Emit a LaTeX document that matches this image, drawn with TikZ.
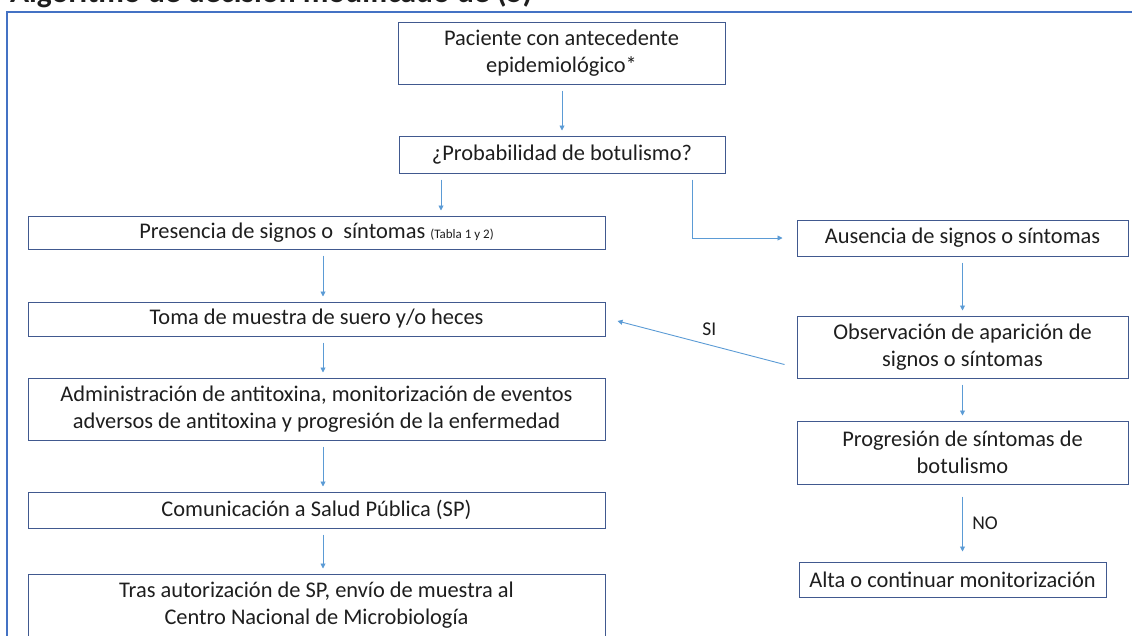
\documentclass[tikz,border=0pt]{standalone}
\usepackage{fontspec}
\setmainfont{Carlito}
\usetikzlibrary{arrows.meta}
\definecolor{boxline}{HTML}{41598F}
\definecolor{arrowblue}{HTML}{5B9BD5}
\definecolor{frameblue}{HTML}{4472C4}
\definecolor{txt}{HTML}{1E1E1E}
\tikzset{
  stepbox/.style={draw=boxline, line width=1pt, align=center, inner sep=0pt,
    text=txt, font=\fontsize{22.4}{27}\selectfont},
  flow/.style={draw=arrowblue, line width=0.9pt, -{Triangle[width=5pt,length=5pt]},
    shorten <=6pt, shorten >=5pt},
  flowlabel/.style={text=txt, font=\fontsize{19.5}{22}\selectfont}
}
\begin{document}
\begin{tikzpicture}[x=1pt,y=-1pt]
    \useasboundingbox (0,0) rectangle (1132,635);

    % Cut-off title and outer frame
    \node[anchor=base east, text=txt, font=\bfseries\fontsize{31.5}{34}\selectfont]
        (titulo) at (536,2) {Algoritmo de decisión modificado de (5)};
    \draw[frameblue, line width=1.6pt] (7,640) -- (7,12) -- (1140,12);

    % Boxes
    \node[stepbox, minimum width=327pt, minimum height=62pt] (pac) at (561.5,53)
        {Paciente con antecedente\\epidemiológico*};
    \node[stepbox, minimum width=326pt, minimum height=37pt] (prob) at (562,154.5)
        {¿Probabilidad de botulismo?};
    \node[stepbox, minimum width=577pt, minimum height=33pt] (pres) at (316.5,232.5)
        {Presencia de signos o\ \ síntomas {\fontsize{13}{15}\selectfont (Tabla 1 y 2)}};
    \node[stepbox, minimum width=577pt, minimum height=34pt] (toma) at (316.5,319)
        {Toma de muestra de suero y/o heces};
    \node[stepbox, minimum width=577pt, minimum height=62pt] (admin) at (316.5,409)
        {Administración de antitoxina, monitorización de eventos\\adversos de antitoxina y progresión de la enfermedad};
    \node[stepbox, minimum width=577pt, minimum height=36pt] (com) at (316.5,510)
        {Comunicación a Salud Pública (SP)};
    \node[stepbox, minimum width=577pt, minimum height=62pt] (tras) at (316.5,605)
        {Tras autorización de SP, envío de muestra al\\Centro Nacional de Microbiología};
    \node[stepbox, minimum width=331pt, minimum height=36pt] (aus) at (962.5,238)
        {Ausencia de signos o síntomas};
    \node[stepbox, minimum width=331pt, minimum height=62pt] (obs) at (962.5,347)
        {Observación de aparición de\\signos o síntomas};
    \node[stepbox, minimum width=331pt, minimum height=63pt] (prog) at (962.5,452.5)
        {Progresión de síntomas de\\botulismo};
    \node[stepbox, minimum width=307pt, minimum height=35pt] (alta) at (952.5,579.5)
        {Alta o continuar monitorización};

    % Arrow columns
    \coordinate (kp) at (441,0);
    \coordinate (lc) at (323,0);
    \coordinate (elbow) at (692,238);

    % Connectors
    \draw[flow] (pac.south -| prob.north) -- (prob.north);
    \draw[flow] (prob.south -| kp) -- (pres.north -| kp);
    \draw[flow, shorten >=14pt] (prob.south -| elbow) -- (elbow) -- (aus.west);
    \draw[flow] (pres.south -| lc) -- (toma.north -| lc);
    \draw[flow] (toma.south -| lc) -- (admin.north -| lc);
    \draw[flow] (admin.south -| lc) -- (com.north -| lc);
    \draw[flow] (com.south -| lc) -- (tras.north -| lc);
    \draw[flow] (aus.south) -- (obs.north);
    \draw[flow, shorten <=0pt, shorten >=0pt] ([shift={(-12,-14)}]obs.south west)
        -- node[flowlabel, pos=0.45, above=6pt] {SI} ([shift={(12,2)}]toma.east);
    \draw[flow] (obs.south) -- (prog.north);
    \draw[flow, shorten <=12pt, shorten >=10pt] (prog.south) -- (alta.north -| prog.south)
        node[flowlabel, midway, right=6pt] {NO};
\end{tikzpicture}
\end{document}
